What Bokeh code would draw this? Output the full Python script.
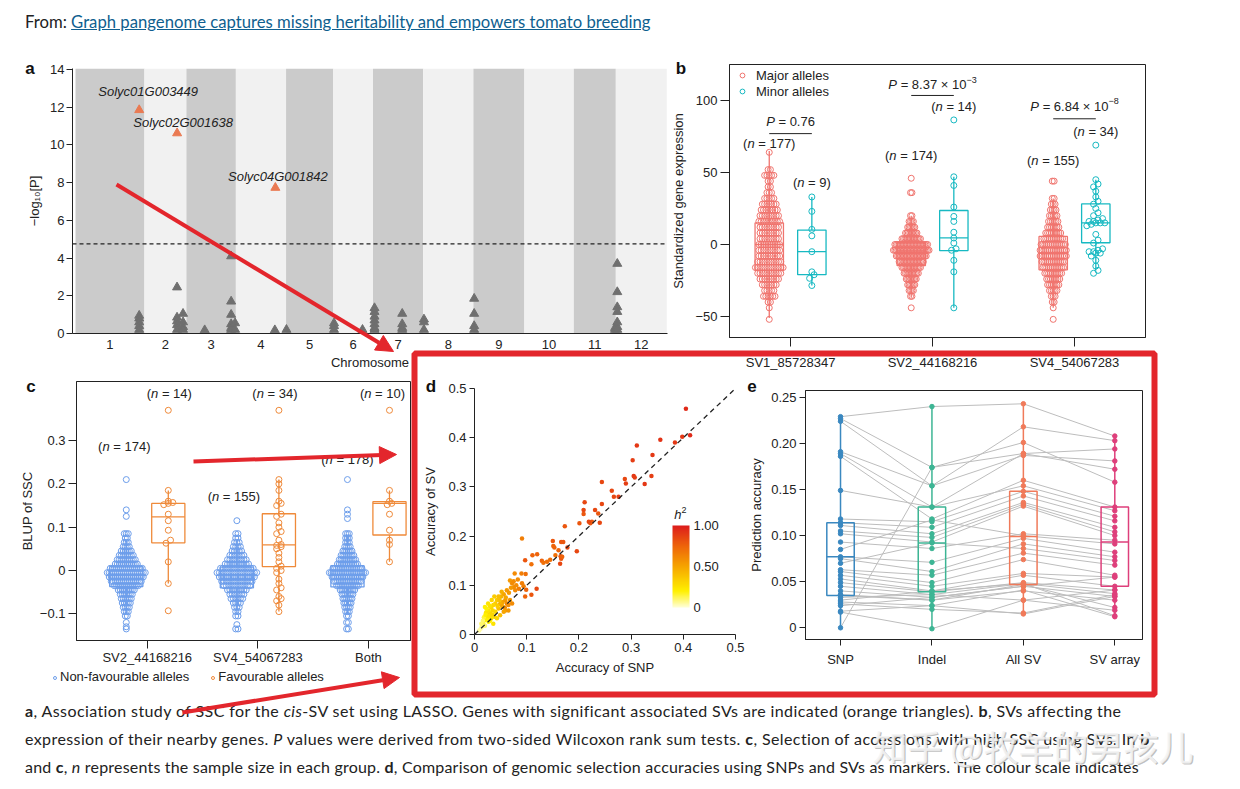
import numpy as np
from bokeh.plotting import figure
from bokeh.models import (Range1d, FixedTicker, Arrow, NormalHead, ColorBar, ColumnDataSource,
                          LinearColorMapper, Legend, LegendItem, Div, Column,
                          Span, Slope, BoxAnnotation, PrintfTickFormatter)
from bokeh.embed import file_html
from bokeh.resources import INLINE
from bokeh.core.properties import value

FONT = "Liberation Sans"
INK = "#222222"
RED = "#e3262c"
NB = "\u00a0"

# ======================= DATA =======================
# ---- panel a: LASSO association (Manhattan) ----
a_chrom_labels = ["1", "2", "3", "4", "5", "6", "7", "8", "9", "10", "11", "12"]
a_chrom_len = [92, 56, 66, 67, 63, 53, 67, 67, 68, 66, 56, 68]   # Mb
a_sv_chrom = [1, 1, 1, 1, 1, 2, 2, 2, 2, 2, 2, 2, 2, 2, 3, 3, 3, 3, 3, 3, 3, 3, 3, 4, 5,
              6, 6, 6, 6, 7, 7, 7, 7, 7, 7, 7, 7, 7, 7, 7, 8, 8, 8, 9, 9, 9, 9, 11, 11,
              12, 12, 12, 12, 12, 12, 12]
a_sv_pos = [85, 85, 85, 85, 85, 43.5, 43.5, 43.5, 43.5, 43.5, 51.5, 51.5, 51.5, 51.5,
            24.4, 59.7, 59.7, 59.7, 59.7, 59.7, 59.7, 65, 65, 52, 0.5, 1, 1, 1, 39,
            2, 2, 2, 2, 2, 2, 2, 39, 39, 39, 39, 1, 1, 1, 1, 1, 1, 1, 55, 55,
            2, 2, 2, 2, 2, 2, 2]
a_sv_logp = [0.95, 0.8, 0.6, 0.4, 0.2, 2.45, 0.85, 0.65, 0.45, 0.2, 1.05, 0.6, 0.35, 0.2,
             0.18, 4.1, 1.7, 1.0, 0.5, 0.3, 0.2, 0.55, 0.2, 0.18, 0.2, 0.55, 0.4, 0.2, 0.2,
             1.35, 1.15, 0.9, 0.7, 0.5, 0.3, 0.2, 1.05, 0.5, 0.3, 0.2, 0.75, 0.6, 0.2,
             1.85, 1.05, 0.4, 0.2, 0.3, 0.2, 3.7, 2.2, 1.4, 1.15, 0.6, 0.35, 0.2]
a_sig_chrom = [1, 2, 4]
a_sig_pos = [85, 43.6, 52.7]
a_sig_logp = [11.85, 10.62, 7.73]
a_sig_gene = ["Solyc01G003449", "Solyc02G001638", "Solyc04G001842"]
a_threshold = 4.75

# ---- panel b: gene expression by allele ----
b_sv_labels = ["SV1_85728347", "SV2_44168216", "SV4_54067283"]
b_sv1_major_v = [64, 52, 48, 44, 40, 36, 32, 28, 24, 20, 16, 12, 8, 4, 0, -4, -8, -12, -16,
                 -20, -24, -28, -32, -36, -40, -44, -52]
b_sv1_major_n = [1, 2, 5, 2, 2, 3, 5, 7, 8, 9, 10, 9, 9, 9, 10, 10, 10, 11, 13, 11, 9, 7, 5,
                 6, 2, 1, 1]
b_sv2_major_v = [46, 36, 20, 16, 12, 8, 4, 0, -4, -8, -12, -16, -20, -24, -28, -32, -36, -44]
b_sv2_major_n = [1, 2, 2, 4, 6, 9, 14, 24, 26, 22, 18, 14, 11, 8, 6, 4, 2, 1]
b_sv4_major_v = [44, 32, 28, 24, 20, 16, 12, 8, 4, 0, -4, -8, -12, -16, -20, -24, -28, -32,
                 -36, -40, -44, -52]
b_sv4_major_n = [2, 2, 3, 4, 5, 6, 7, 9, 11, 14, 15, 15, 13, 12, 10, 8, 7, 5, 3, 2, 1, 1]
b_sv1_minor = [33, 23, 10.5, 6, -5, -19, -21, -23.5, -28.5]
b_sv2_minor = [86.5, 47, 41, 26, 19.5, 16, 8.5, 4.5, 1, -3, -4, -11, -19, -44]
b_sv4_minor = [69, 45, 42, 40, 37, 33, 30, 28, 25, 22, 20, 18, 17, 16, 16, 15, 15, 15, 14, 13,
               7, 3, 1, -3, -4, -5, -5, -6, -6, -8, -11, -15, -18, -20]
# box stats: major SV1, minor SV1, major SV2, minor SV2, major SV4, minor SV4
b_q1 = [-18, -21, -14.6, -4.2, -17.6, 1.2]
b_med = [0, -5, -4.5, 4.6, -6, 15]
b_q3 = [15, 10, 1.2, 23.6, 5.6, 28.2]
b_lo = [-51, -28.5, -37, -44, -44, -18]
b_hi = [65, 33, 20, 47, 32, 45]
b_n = [177, 9, 174, 14, 155, 34]
b_n_y = [70, 42.8, 61.8, 96, 58.3, 78.5]
b_p_text = ["0.76", "8.37 × 10", "6.84 × 10"]
b_p_exp = ["", "−3", "−8"]
b_p_line_y = [77, 103.5, 87.3]
b_p_text_y = [85.6, 110.9, 96]

# ---- panel c: BLUP of SSC ----
c_labels = ["SV2_44168216", "SV4_54067283", "Both"]
c_sv2_non_v = [0.21, 0.14, 0.125, 0.085, 0.075, 0.065, 0.055, 0.045, 0.035, 0.025, 0.015,
               0.005, -0.005, -0.015, -0.025, -0.035, -0.045, -0.055, -0.065, -0.075, -0.085,
               -0.095, -0.105, -0.12, -0.13, -0.135]
c_sv2_non_n = [1, 1, 1, 3, 2, 3, 4, 6, 8, 10, 12, 17, 20, 18, 16, 13, 9, 7, 6, 5, 4, 3, 2, 1, 1, 1]
c_sv4_non_v = [0.115, 0.085, 0.075, 0.065, 0.055, 0.045, 0.035, 0.025, 0.015, 0.005, -0.005,
               -0.015, -0.025, -0.035, -0.045, -0.055, -0.065, -0.075, -0.085, -0.095, -0.105,
               -0.125, -0.135]
c_sv4_non_n = [1, 2, 2, 3, 4, 5, 7, 9, 11, 15, 18, 16, 14, 12, 9, 7, 6, 4, 3, 2, 2, 1, 2]
c_both_non_v = [0.21, 0.14, 0.13, 0.12, 0.085, 0.075, 0.065, 0.055, 0.045, 0.035, 0.025, 0.015,
                0.005, -0.005, -0.015, -0.025, -0.035, -0.045, -0.055, -0.065, -0.075, -0.085,
                -0.095, -0.105, -0.12, -0.135]
c_both_non_n = [1, 1, 1, 1, 3, 3, 3, 4, 6, 8, 10, 12, 17, 21, 18, 16, 13, 9, 7, 6, 5, 4, 3, 2, 2, 2]
c_sv2_fav = [0.37, 0.185, 0.16, 0.157, 0.155, 0.152, 0.13, 0.115, 0.093, 0.07, 0.063, 0.02,
             -0.03, -0.093]
c_sv4_fav = [0.37, 0.21, 0.2, 0.185, 0.16, 0.155, 0.15, 0.13, 0.125, 0.11, 0.1, 0.09, 0.085,
             0.07, 0.06, 0.058, 0.055, 0.05, 0.04, 0.03, 0.02, 0.01, 0.005, 0.0, -0.005, -0.02,
             -0.03, -0.04, -0.045, -0.06, -0.065, -0.07, -0.08, -0.095]
c_both_fav = [0.37, 0.185, 0.16, 0.155, 0.152, 0.13, 0.093, 0.07, 0.06, 0.02]
# box stats: non SV2, fav SV2, non SV4, fav SV4, non Both, fav Both
c_q1 = [-0.037, 0.064, -0.04, 0.009, -0.038, 0.082]
c_med = [-0.018, 0.124, -0.022, 0.059, -0.02, 0.155]
c_q3 = [0.009, 0.155, 0.008, 0.131, 0.011, 0.159]
c_lo = [-0.10, -0.03, -0.10, -0.095, -0.10, 0.02]
c_hi = [0.07, 0.185, 0.07, 0.21, 0.08, 0.185]
c_n = [174, 14, 155, 34, 178, 10]
c_n_y = [0.286, 0.408, 0.171, 0.408, 0.2556, 0.408]
c_n_dx = [-2, 1, -3, -4, 0, -7]   # px nudges of the n labels
c_legend = ["Non-favourable alleles", "Favourable alleles"]

# ---- panel d: SV vs SNP accuracy ----
d_snp = [0.405, 0.413, 0.398, 0.384, 0.356, 0.341, 0.339, 0.326, 0.311, 0.303, 0.305, 0.307,
         0.288, 0.29, 0.263, 0.267, 0.276, 0.244, 0.244, 0.211, 0.209, 0.209, 0.231, 0.237,
         0.24, 0.225, 0.222, 0.219, 0.201, 0.196, 0.173, 0.178, 0.17, 0.166, 0.15, 0.151,
         0.153, 0.161, 0.165, 0.166, 0.164, 0.168, 0.155, 0.145, 0.139, 0.129, 0.132, 0.12,
         0.111, 0.109, 0.097, 0.091, 0.119, 0.109, 0.098, 0.099, 0.09, 0.083, 0.077, 0.075,
         0.068, 0.072, 0.075, 0.078, 0.091, 0.094, 0.097, 0.062, 0.056, 0.051, 0.054, 0.059,
         0.062, 0.065, 0.058, 0.049, 0.046, 0.043, 0.04, 0.036, 0.035, 0.032, 0.03, 0.027,
         0.024, 0.022, 0.019, 0.017, 0.014, 0.013, 0.043, 0.038, 0.04, 0.049, 0.027, 0.032,
         0.036, 0.02, 0.026, 0.033, 0.038, 0.046, 0.052, 0.068, 0.072, 0.059, 0.065, 0.056,
         0.018, 0.021, 0.025, 0.028, 0.03, 0.016, 0.023, 0.029, 0.034, 0.012, 0.009, 0.02,
         0.044, 0.048, 0.053, 0.06, 0.066, 0.07, 0.08, 0.085]
d_sv = [0.459, 0.405, 0.402, 0.39, 0.396, 0.365, 0.322, 0.306, 0.384, 0.354, 0.322, 0.319,
        0.316, 0.307, 0.292, 0.28, 0.28, 0.31, 0.265, 0.269, 0.253, 0.245, 0.253, 0.246,
        0.227, 0.229, 0.226, 0.229, 0.226, 0.169, 0.22, 0.177, 0.188, 0.188, 0.19, 0.18,
        0.177, 0.171, 0.159, 0.154, 0.144, 0.158, 0.161, 0.152, 0.148, 0.15, 0.146, 0.163,
        0.161, 0.143, 0.151, 0.195, 0.093, 0.081, 0.123, 0.091, 0.124, 0.112, 0.124, 0.108,
        0.11, 0.104, 0.096, 0.09, 0.104, 0.098, 0.077, 0.09, 0.082, 0.077, 0.066, 0.07,
        0.063, 0.06, 0.055, 0.062, 0.053, 0.07, 0.063, 0.06, 0.049, 0.055, 0.043, 0.049,
        0.036, 0.044, 0.029, 0.022, 0.016, 0.022, 0.033, 0.036, 0.046, 0.039, 0.026, 0.033,
        0.022, 0.056, 0.063, 0.07, 0.077, 0.077, 0.087, 0.07, 0.063, 0.049, 0.049, 0.046,
        0.035, 0.04, 0.03, 0.038, 0.028, 0.028, 0.052, 0.058, 0.04, 0.012, 0.008, 0.018,
        0.058, 0.07, 0.058, 0.075, 0.085, 0.095, 0.1, 0.093]
d_h2 = [0.95, 0.95, 0.9, 0.9, 0.92, 0.9, 0.88, 0.9, 0.9, 0.88, 0.9, 0.88,
        0.85, 0.88, 0.85, 0.85, 0.88, 0.85, 0.85, 0.85, 0.85, 0.8, 0.85, 0.8,
        0.85, 0.8, 0.8, 0.85, 0.8, 0.85, 0.8, 0.85, 0.8, 0.8, 0.8, 0.75,
        0.75, 0.75, 0.8, 0.8, 0.85, 0.75, 0.7, 0.7, 0.7, 0.75, 0.7, 0.75,
        0.75, 0.7, 0.8, 0.65, 0.85, 0.8, 0.7, 0.75, 0.65, 0.6, 0.6, 0.6,
        0.55, 0.6, 0.6, 0.6, 0.65, 0.65, 0.75, 0.55, 0.5, 0.45, 0.5, 0.55,
        0.6, 0.6, 0.6, 0.45, 0.4, 0.35, 0.35, 0.3, 0.3, 0.3, 0.3, 0.25,
        0.25, 0.25, 0.2, 0.15, 0.1, 0.1, 0.3, 0.3, 0.3, 0.4, 0.2, 0.25,
        0.25, 0.2, 0.25, 0.3, 0.35, 0.4, 0.45, 0.55, 0.6, 0.55, 0.55, 0.5,
        0.15, 0.2, 0.2, 0.25, 0.2, 0.1, 0.2, 0.25, 0.3, 0.05, 0.05, 0.1,
        0.35, 0.4, 0.5, 0.5, 0.55, 0.55, 0.6, 0.65]

# ---- panel e: prediction accuracy per marker set ----
e_cats = ["SNP", "Indel", "All SV", "SV array"]
e_snp = [0.229, 0.227, 0.224, 0.191, 0.189, 0.186, 0.149, 0.118, 0.114, 0.111, 0.105, 0.102,
         0.093, 0.085, 0.077, 0.075, 0.070, 0.063, 0.061, 0.057, 0.053, 0.049, 0.045, 0.040,
         0.036, 0.035, 0.033, 0.030, 0.028, 0.026, 0.024, 0.018, 0.017, 0.000]
e_indel = [0.240, 0.174, 0.154, 0.154, 0.131, 0.118, 0.131, 0.115, 0.109, 0.102, 0.098, 0.093,
           0.086, 0.117, 0.071, 0.061, 0.092, 0.057, 0.049, 0.045, 0.040, 0.039, 0.036, 0.033,
           0.030, 0.030, 0.036, 0.040, 0.024, 0.020, 0.033, 0.024, -0.001, 0.174]
e_allsv = [0.243, 0.201, 0.187, 0.218, 0.189, 0.160, 0.154, 0.148, 0.143, 0.136, 0.134, 0.132,
           0.102, 0.100, 0.097, 0.091, 0.086, 0.081, 0.074, 0.059, 0.057, 0.049, 0.048, 0.045,
           0.040, 0.047, 0.030, 0.048, 0.041, 0.016, 0.045, 0.015, 0.030, 0.189]
e_svarray = [0.208, 0.158, 0.181, 0.203, 0.194, 0.131, 0.127, 0.121, 0.116, 0.109, 0.104, 0.100,
             0.095, 0.091, 0.082, 0.077, 0.073, 0.068, 0.057, 0.055, 0.045, 0.041, 0.037, 0.034,
             0.030, 0.022, 0.019, 0.013, 0.012, 0.036, 0.055, 0.034, 0.041, 0.172]
e_q1 = [0.035, 0.039, 0.047, 0.045]
e_med = [0.077, 0.092, 0.099, 0.093]
e_q3 = [0.114, 0.131, 0.148, 0.131]
e_lo = [-0.001, -0.001, 0.015, 0.012]
e_hi = [0.229, 0.240, 0.243, 0.208]

# ======================= HELPERS =======================
AW = {' ': 278, NB: 278, '(': 333, ')': 333, '=': 584, '.': 278, '×': 584, '−': 584, '-': 333,
      'n': 556, 'P': 667, 'h': 556}
LB, RB = 72, 30   # common left / right borders (frames of stacked plots are aligned)


def tw(s, size):
    return sum(AW.get(ch, 556) for ch in s) * size / 1000.0


def place(obj, left, top):
    obj.styles = {"position": "absolute", "left": f"{left}px", "top": f"{top}px"}


def panel(frame, top, bottom, xr, yr, **kw):
    fl, ft, fr, fb = frame
    cl, cr = fl - LB, fr + RB
    p = figure(width=cr - cl, height=bottom - top, x_range=xr, y_range=yr,
               output_backend="svg", toolbar_location=None,
               min_border_left=LB, min_border_right=RB,
               min_border_top=ft - top, min_border_bottom=bottom - fb, **kw)
    p.border_fill_color = None
    p.background_fill_color = None
    p.outline_line_color = None
    if p.xgrid:
        p.xgrid.visible = False
        p.ygrid.visible = False
    place(p, cl, top)
    return p


def style_axes(p, tick_out, xstand, ystand, xlab_stand=5, ylab_stand=5):
    for ax in p.axis:
        ax.major_label_text_font = FONT
        ax.major_label_text_font_size = "13px"
        ax.major_label_text_color = INK
        ax.axis_label_text_font = FONT
        ax.axis_label_text_font_size = "13px"
        ax.axis_label_text_font_style = "normal"
        ax.axis_label_text_color = INK
        ax.axis_line_color = INK
        ax.major_tick_line_color = INK
        ax.minor_tick_line_color = None
        ax.major_tick_out = tick_out
        ax.major_tick_in = 0
    p.xaxis.major_label_standoff = xstand
    p.yaxis.major_label_standoff = ystand
    p.xaxis.axis_label_standoff = xlab_stand
    p.yaxis.axis_label_standoff = ylab_stand


def rich(p, x, y, parts, px_per_unit, nudge=0):
    total = sum(tw(t, sz) for t, st, sz, dy in parts)
    off = -total / 2.0 + nudge
    for t, st, sz, dy in parts:
        p.text(x=[x], y=[y + dy / px_per_unit], text=[t], x_offset=off,
               text_font=value(FONT), text_font_size=f"{sz}px", text_font_style=st,
               text_align="left", text_baseline="middle", text_color=INK)
        off += tw(t, sz)


def n_label(p, x, y, n, ppu, nudge=0):
    rich(p, x, y, [("(", "normal", 13, 0), ("n", "italic", 13, 0),
                   (f"{NB}={NB}{n})", "normal", 13, 0)], ppu, nudge)


def rows_from_counts(vals, counts):
    return [[v] * c for v, c in zip(vals, counts)]


def rows_from_values(vals, w):
    rows = []
    for v in sorted(vals):
        if rows and v - rows[-1][0] < w:
            rows[-1].append(v)
        else:
            rows.append([v])
    return rows


def swarm(rows, center, dx):
    xs, ys = [], []
    for r in rows:
        k = len(r)
        for j, v in enumerate(r):
            xs.append(center + (j - (k - 1) / 2.0) * dx)
            ys.append(v)
    return xs, ys


def boxes(p, xs, q1, med, q3, lo, hi, colors, width, lw=1.3):
    for x, a, m, b, l, h, c in zip(xs, q1, med, q3, lo, hi, colors):
        p.segment(x0=[x, x], y0=[b, a], x1=[x, x], y1=[h, l], line_color=c, line_width=lw)
        p.quad(left=[x - width / 2], right=[x + width / 2], bottom=[a], top=[b],
               fill_color=None, line_color=c, line_width=lw)
        p.segment(x0=[x - width / 2], y0=[m], x1=[x + width / 2], y1=[m], line_color=c, line_width=lw)


# ======================= PANEL A =======================
starts = np.concatenate([[0], np.cumsum(a_chrom_len)[:-1]]).astype(float)
ends = starts + np.array(a_chrom_len, dtype=float)
centers = (starts + ends) / 2.0
pa = panel((72, 68, 667, 333), 55, 378, Range1d(-4, 790), Range1d(0, 14.05))
band_cols = ["#cbcbcb" if i % 2 == 0 else "#f1f1f1" for i in range(12)]
pa.quad(left=starts, right=ends, bottom=0, top=14.05, fill_color=band_cols, line_color=None)
pa.add_layout(Span(location=a_threshold, dimension="width", line_color=INK, line_dash="4 3",
                   line_width=1.2))
gx = [starts[c - 1] + pos for c, pos in zip(a_sv_chrom, a_sv_pos)]
pa.scatter(gx, a_sv_logp, marker="triangle", size=9, fill_color="#6f6f6f", line_color="#6f6f6f")
sx = [starts[c - 1] + pos for c, pos in zip(a_sig_chrom, a_sig_pos)]
pa.scatter(sx, a_sig_logp, marker="triangle", size=9, fill_color="#ea7a52", line_color="#ea7a52")
ppu_a = 265 / 14.05
lab_dx = [9, 6, 2.5]
lab_dy = [18, 11, 11.6]
for x, y, g, ddx, ddy in zip(sx, a_sig_logp, a_sig_gene, lab_dx, lab_dy):
    pa.text(x=[x], y=[y + ddy / ppu_a], text=[g], x_offset=ddx, text_font=value(FONT),
            text_font_size="13px", text_font_style="italic", text_align="center",
            text_baseline="middle", text_color=INK)
pa.xaxis.ticker = FixedTicker(ticks=list(centers))
pa.xaxis.major_label_overrides = {float(c): l for c, l in zip(centers, a_chrom_labels)}
pa.yaxis.ticker = FixedTicker(ticks=[0, 2, 4, 6, 8, 10, 12, 14])
pa.xaxis.axis_label = "Chromosome"
pa.yaxis.axis_label = "−log₁₀[P]"
style_axes(pa, 6, 6, 2, xlab_stand=3, ylab_stand=5)
pa.xaxis.major_tick_out = 0

# ======================= PANEL B =======================
pb = panel((729, 64, 1145, 337), 55, 378, Range1d(0.57, 3.50), Range1d(-64.6, 125))
pb.outline_line_color = INK
ppx_b = (1145 - 729) / (3.50 - 0.57)
ppu_b = 273 / (125 + 64.6)
MAJ, MIN = "#f0746e", "#17b9c2"
dodge_b = 0.15
mx, my, nx, ny = [], [], [], []
maj_rows = [rows_from_counts(b_sv1_major_v, b_sv1_major_n),
            rows_from_counts(b_sv2_major_v, b_sv2_major_n),
            rows_from_counts(b_sv4_major_v, b_sv4_major_n)]
maj_width = [30, 37, 28]
min_vals = [b_sv1_minor, b_sv2_minor, b_sv4_minor]
gpos = [1, 2, 3]
for g, rows, wpx, mv in zip(gpos, maj_rows, maj_width, min_vals):
    mxx = max(len(r) for r in rows)
    xs, ys = swarm(rows, g - dodge_b, wpx / mxx / ppx_b)
    mx += xs
    my += ys
    xs, ys = swarm(rows_from_values(mv, 3.0), g + dodge_b, 4.5 / ppx_b)
    nx += xs
    ny += ys
box_x_b = [g + s * dodge_b for g in gpos for s in (-1, 1)]
boxes(pb, box_x_b, b_q1, b_med, b_q3, b_lo, b_hi, [MAJ, MIN] * 3, 0.2)
r_maj = pb.scatter(mx, my, size=6, fill_color=None, line_color=MAJ, line_width=1)
r_min = pb.scatter(nx, ny, size=6, fill_color=None, line_color=MIN, line_width=1)
for x, y, n in zip(box_x_b, b_n_y, b_n):
    n_label(pb, x, y, n, ppu_b)
pb.segment(x0=[g - dodge_b for g in gpos], y0=b_p_line_y, x1=[g + dodge_b for g in gpos],
           y1=b_p_line_y, line_color=INK, line_width=1)
for g, t, e, y in zip(gpos, b_p_text, b_p_exp, b_p_text_y):
    parts = [("P", "italic", 13, 0), (NB + "=" + NB + t.replace(" ", NB), "normal", 13, 0)]
    if e:
        parts.append((e, "normal", 9, 5))
    rich(pb, g, y, parts, ppu_b)
legb = Legend(items=[LegendItem(label="Major alleles", renderers=[r_maj]),
                     LegendItem(label="Minor alleles", renderers=[r_min])],
              location=(7, 238), label_text_font=FONT, label_text_font_size="13px",
              label_text_color=INK, glyph_width=12, glyph_height=14, label_height=16,
              label_standoff=8, spacing=0, padding=0, margin=0, border_line_color=None,
              background_fill_alpha=0)
pb.add_layout(legb)
pb.xaxis.ticker = FixedTicker(ticks=gpos)
pb.xaxis.major_label_overrides = {g: l for g, l in zip(gpos, b_sv_labels)}
pb.yaxis.ticker = FixedTicker(ticks=[-50, 0, 50, 100])
pb.yaxis.major_label_overrides = {-50: "−50"}
pb.yaxis.axis_label = "Standardized gene expression"
style_axes(pb, 9, 8, 3, ylab_stand=6)

# ======================= PANEL C =======================
pc = panel((76, 381, 410, 640), 372, 668, Range1d(0.36, 3.38), Range1d(-0.1617, 0.4365))
pc.outline_line_color = INK
ppx_c = (410 - 76) / (3.38 - 0.36)
ppu_c = 259 / (0.4365 + 0.1617)
BLU, ORA = "#6d9eeb", "#ef8a3a"
dodge_c = 0.19
non_rows = [rows_from_counts(c_sv2_non_v, c_sv2_non_n),
            rows_from_counts(c_sv4_non_v, c_sv4_non_n),
            rows_from_counts(c_both_non_v, c_both_non_n)]
non_width = [40, 42, 38]
fav_vals = [c_sv2_fav, c_sv4_fav, c_both_fav]
bx, by, ox, oy = [], [], [], []
for g, rows, wpx, fv in zip(gpos, non_rows, non_width, fav_vals):
    mxx = max(len(r) for r in rows)
    xs, ys = swarm(rows, g - dodge_c, wpx / mxx / ppx_c)
    bx += xs
    by += ys
    xs, ys = swarm(rows_from_values(fv, 0.008), g + dodge_c, 4.5 / ppx_c)
    ox += xs
    oy += ys
box_x_c = [g + s * dodge_c for g in gpos for s in (-1, 1)]
boxes(pc, box_x_c, c_q1, c_med, c_q3, c_lo, c_hi, [BLU, ORA] * 3, 0.3)
pc.scatter(bx, by, size=6, fill_color=None, line_color=BLU, line_width=1)
pc.scatter(ox, oy, size=6, fill_color=None, line_color=ORA, line_width=1)
for x, y, n, ddx in zip(box_x_c, c_n_y, c_n, c_n_dx):
    n_label(pc, x, y, n, ppu_c, ddx)
pc.xaxis.ticker = FixedTicker(ticks=gpos)
pc.xaxis.major_label_overrides = {g: l for g, l in zip(gpos, c_labels)}
pc.yaxis.ticker = FixedTicker(ticks=[-0.1, 0, 0.1, 0.2, 0.3])
pc.yaxis.formatter = PrintfTickFormatter(format="%.1f")
pc.yaxis.major_label_overrides = {-0.1: "−0.1", 0: "0"}
pc.yaxis.axis_label = "BLUP of SSC"
style_axes(pc, 8, 1, 3, ylab_stand=2)


def dot(c):
    return (f'<span style="display:inline-block;width:4px;height:4px;border:1.2px solid {c};'
            f'border-radius:50%;margin-right:3px;vertical-align:1px"></span>')


legc = Div(text=(f'<div style="font-family:\'{FONT}\';font-size:13px;color:{INK};white-space:nowrap">'
                 f'{dot(BLU)}{c_legend[0]}<span style="display:inline-block;width:22px"></span>'
                 f'{dot(ORA)}{c_legend[1]}</div>'), width=320, height=18, margin=0)
place(legc, 53, 668)

# ======================= PANEL D =======================
pd_ = panel((474, 388, 735, 634), 372, 690, Range1d(0, 0.5), Range1d(0, 0.5))
stops = [(0.0, (255, 255, 215)), (0.2, (255, 240, 0)), (0.5, (246, 165, 0)),
         (0.75, (238, 100, 10)), (1.0, (221, 28, 28))]
pal = []
for i in range(256):
    t = i / 255.0
    for (t0, c0), (t1, c1) in zip(stops[:-1], stops[1:]):
        if t0 <= t <= t1:
            f = (t - t0) / (t1 - t0)
            rgb = [int(round(a + (b - a) * f)) for a, b in zip(c0, c1)]
            pal.append("#%02x%02x%02x" % tuple(rgb))
            break
mapper = LinearColorMapper(palette=pal, low=0, high=1)
pd_.add_layout(Slope(gradient=1, y_intercept=0, line_color=INK, line_dash="5 4", line_width=1.3))
src_d = ColumnDataSource(dict(x=d_snp, y=d_sv, h2=d_h2))
pd_.scatter("x", "y", source=src_d, size=4.5, fill_color={"field": "h2", "transform": mapper},
            line_color=None)
cb = ColorBar(color_mapper=mapper, location=(198, 27), width=17, height=82, padding=0, margin=0,
              ticker=FixedTicker(ticks=[0, 0.5, 1]),
              major_label_overrides={0: "0", 0.5: "0.50", 1: "1.00"},
              major_label_text_font=FONT, major_label_text_font_size="13px",
              major_label_text_color=INK, label_standoff=4,
              major_tick_line_color=None, bar_line_color=None, border_line_color=None,
              background_fill_alpha=0)
pd_.add_layout(cb)
ppu_d = 246 / 0.5
rich(pd_, 0.3946, 0.2445, [("h", "italic", 13, 0), ("2", "normal", 9, 4)], ppu_d)
pd_.xaxis.ticker = FixedTicker(ticks=[0, 0.1, 0.2, 0.3, 0.4, 0.5])
pd_.yaxis.ticker = FixedTicker(ticks=[0, 0.1, 0.2, 0.3, 0.4, 0.5])
pd_.xaxis.formatter = PrintfTickFormatter(format="%.1f")
pd_.yaxis.formatter = PrintfTickFormatter(format="%.1f")
pd_.xaxis.major_label_overrides = {0: "0"}
pd_.yaxis.major_label_overrides = {0: "0"}
pd_.xaxis.axis_label = "Accuracy of SNP"
pd_.yaxis.axis_label = "Accuracy of SV"
style_axes(pd_, 5, 3, 3, xlab_stand=5, ylab_stand=7)

# ======================= PANEL E =======================
pe = panel((805, 390, 1142, 639), 372, 690, Range1d(0.617, 4.303), Range1d(-0.0127, 0.2574))
pe.outline_line_color = INK
ECOL = ["#3a88c0", "#3db594", "#f07a5a", "#de3f7b"]
ex = [1, 2, 3, 4]
series = [e_snp, e_indel, e_allsv, e_svarray]
pe.multi_line(xs=[ex] * len(e_snp), ys=[list(v) for v in zip(*series)], line_color="#bdbdbd",
              line_width=1)
boxes(pe, ex, e_q1, e_med, e_q3, e_lo, e_hi, ECOL, 0.3, lw=1.5)
for x, s, c in zip(ex, series, ECOL):
    pe.scatter([x] * len(s), s, size=4.5, fill_color=c, line_color=c)
pe.xaxis.ticker = FixedTicker(ticks=ex)
pe.xaxis.major_label_overrides = {x: l for x, l in zip(ex, e_cats)}
pe.yaxis.ticker = FixedTicker(ticks=[0, 0.05, 0.1, 0.15, 0.2, 0.25])
pe.yaxis.formatter = PrintfTickFormatter(format="%.2f")
pe.yaxis.major_label_overrides = {0: "0"}
pe.yaxis.axis_label = "Prediction accuracy"
style_axes(pe, 6, 6, 3, ylab_stand=4)

# ======================= TEXT =======================
header = Div(text='<div style="font-family:Lato; font-size:16.7px; line-height:24px; color:#222; '
                  'white-space:nowrap">From: <span style="color:#0f5f8f; text-decoration:underline">'
                  'Graph pangenome captures missing heritability and empowers tomato breeding</span></div>',
             width=800, height=24, margin=0)
place(header, 25, 10)
cap = ('<div style="font-family:Lato; font-size:16px; letter-spacing:0.4px; line-height:28px; '
       'color:#222; white-space:nowrap">'
       '<b>a</b>, Association study of SSC for the <i>cis</i>-SV set using LASSO. Genes with significant '
       'associated SVs are indicated (orange triangles). <b>b</b>, SVs affecting the<br>'
       'expression of their nearby genes. <i>P</i> values were derived from two-sided Wilcoxon rank sum '
       'tests. <b>c</b>, Selection of accessions with high SSC using SVs. In <b>b</b><br>'
       '<span style="letter-spacing:0.2px">and <b>c</b>, <i>n</i> represents the sample size in each group. '
       '<b>d</b>, Comparison of genomic selection accuracies using SNPs and SVs as markers. '
       'The colour scale indicates</span></div>')
caption = Div(text=cap, width=1200, height=84, margin=0)
place(caption, 25, 697)

letter_divs = []
for t, x, y in zip(["a", "b", "c", "d", "e"], [30, 681, 31, 431, 752], [70, 70, 388, 388, 388]):
    d = Div(text=f'<div style="font-family:\'{FONT}\';font-weight:bold;font-size:17px;'
                 f'line-height:20px;color:#111;width:20px;text-align:center">{t}</div>',
            width=20, height=20, margin=0)
    place(d, x - 10, y - 11)
    letter_divs.append(d)

# ======================= OVERLAY (red frame, arrows, watermark) =======================
ov = panel((80, 0, 1202, 781), 0, 781, Range1d(80, 1202), Range1d(781, 0),
           x_axis_type=None, y_axis_type=None)
ov.add_layout(BoxAnnotation(left=414, right=1154, top=353, bottom=694, fill_alpha=0,
                            line_color=RED, line_alpha=1, line_width=6))
arrows = [((116, 184), (393, 351)), ((193, 461), (396, 454)), ((182, 712), (399, 677))]
for (xs0, ys0), (xs1, ys1) in arrows:
    ov.add_layout(Arrow(end=NormalHead(size=17, fill_color=RED, line_color=RED, line_width=1),
                        x_start=xs0, y_start=ys0, x_end=xs1, y_end=ys1,
                        line_color=RED, line_width=4))
wm = "知乎 @牧羊的男孩儿"
ov.text(x=[872], y=[745], text=[wm], text_font=value("Noto Sans CJK SC"), text_font_size="35px",
        text_color="#8a8a8a", text_alpha=0.55, text_baseline="middle", x_offset=1.2, y_offset=1.2)
ov.text(x=[872], y=[745], text=[wm], text_font=value("Noto Sans CJK SC"), text_font_size="35px",
        text_color="#f4f4f4", text_alpha=0.9, text_baseline="middle")

root = Column(children=[pa, pb, pc, pd_, pe, header, caption, legc] + letter_divs + [ov],
              width=1232, height=781, styles={"position": "relative"})
open("out.html", "w").write(file_html(root, INLINE))
